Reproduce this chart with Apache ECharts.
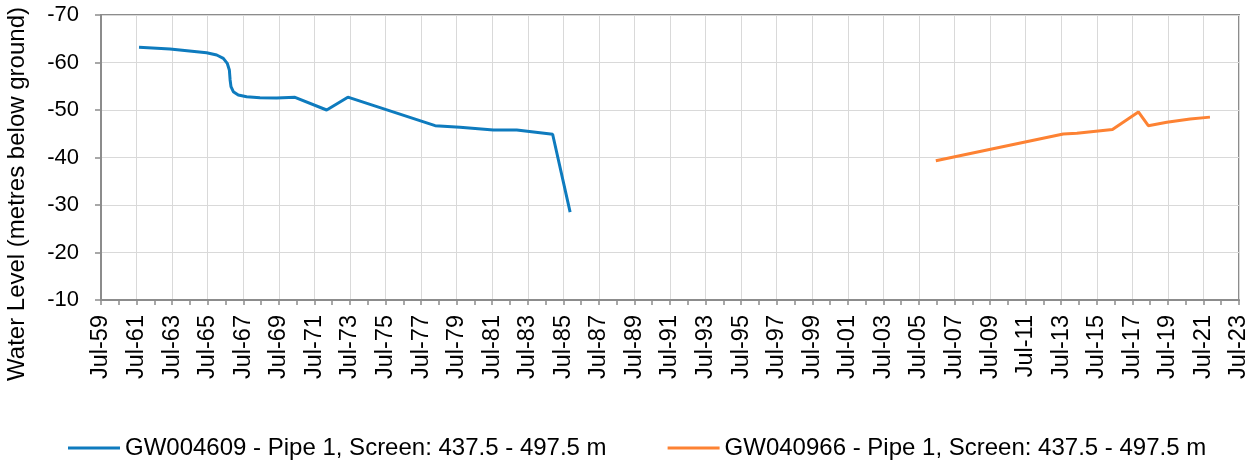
<!DOCTYPE html>
<html>
<head>
<meta charset="utf-8">
<script src="https://cdn.jsdelivr.net/npm/echarts@6/dist/echarts.min.js"></script>
<style>
  html, body { margin: 0; padding: 0; background: #fff; }
  #chart { width: 1256px; height: 466px; }
</style>
</head>
<body>
<div id="chart"></div>
<script>
// bore names
var seriesNames = [
  'GW004609 - Pipe 1, Screen: 437.5 - 497.5 m',
  'GW040966 - Pipe 1, Screen: 437.5 - 497.5 m'
];
var yTitle = 'Water Level (metres below ground)';

// GW004609 readings (date, water level)
var dates1 = ['1961-08-21', '1963-05-18', '1965-06-09', '1966-01-04', '1966-05-18',
  '1966-08-07', '1966-09-20', '1966-10-05', '1966-10-23', '1966-12-10', '1967-03-20',
  '1967-09-10', '1968-06-10', '1969-05-18', '1970-05-29', '1972-03-10', '1973-05-19',
  '1978-04-16', '1979-09-09', '1981-07-25', '1982-11-19', '1984-11-25', '1985-11-19'];
var levels1 = [-63.2, -62.84, -62.06, -61.58, -60.88,
  -59.83, -58.42, -56.32, -54.91, -53.85, -53.16,
  -52.8, -52.59, -52.53, -52.67, -50.0, -52.7,
  -46.7, -46.36, -45.8, -45.8, -44.9, -28.5];

// GW040966 readings
var dates2 = ['2006-06-13', '2013-08-13', '2014-05-19', '2016-05-19', '2017-11-04',
  '2018-05-25', '2019-06-10', '2020-10-01', '2021-11-13'];
var levels2 = [-39.3, -44.95, -45.1, -45.9, -49.6, -46.7, -47.4, -48.1, -48.5];

// y axis ticks
var yTicks = [-70, -60, -50, -40, -30, -20, -10];

// x axis: years counted from Jul-1959
function toX(d) {
  var p = d.split('-');
  return ((+p[0] - 1959) * 12 + (+p[1] - 7) + (+p[2] - 1) / 30.4) / 12;
}
function pairs(ds, vs) {
  return ds.map(function (d, i) { return [toX(d), vs[i]]; });
}

var chart = echarts.init(document.getElementById('chart'));
var font = 'Liberation Sans, Arial, sans-serif';
var axisGray = '#8c8c8c';

var option = {
  animation: false,
  textStyle: { fontFamily: font },
  grid: {
    left: 101, right: 17, top: 15, bottom: 166,
    show: true, borderColor: axisGray, borderWidth: 2
  },
  graphic: [{
    type: 'text',
    x: 17,
    y: 194,
    rotation: Math.PI / 2,
    style: {
      text: yTitle,
      fontSize: 24,
      fontFamily: font,
      fill: '#000',
      align: 'center',
      verticalAlign: 'middle'
    }
  }],
  legend: {
    top: 436,
    left: 68,
    padding: 0,
    itemWidth: 52,
    itemHeight: 3,
    itemGap: 61,
    icon: 'rect',
    textStyle: { fontSize: 24, color: '#000', fontFamily: font },
    data: seriesNames
  },
  xAxis: {
    type: 'value',
    min: 0,
    max: 64,
    interval: 2,
    axisLine: { lineStyle: { color: axisGray, width: 2 } },
    axisTick: { length: 5, lineStyle: { color: axisGray, width: 1.5 } },
    minorTick: { show: true, splitNumber: 2, length: 5, lineStyle: { color: axisGray, width: 1.5 } },
    splitLine: { lineStyle: { color: '#d9d9d9', width: 1 } },
    axisLabel: {
      rotate: 90,
      fontSize: 23.5,
      color: '#000',
      margin: 15,
      showMinLabel: true,
      showMaxLabel: true,
      formatter: function (v) {
        var yy = (59 + v) % 100;
        return 'Jul-' + (yy < 10 ? '0' : '') + yy;
      }
    }
  },
  yAxis: {
    type: 'value',
    inverse: true,
    min: yTicks[0],
    max: yTicks[yTicks.length - 1],
    interval: 10,
    axisLine: { show: true, lineStyle: { color: axisGray, width: 2 } },
    axisTick: { show: true, length: 6, lineStyle: { color: axisGray, width: 1.5 } },
    splitLine: { lineStyle: { color: '#d9d9d9', width: 1 } },
    axisLabel: { fontSize: 22, color: '#000', margin: 22 }
  },
  series: [
    {
      name: seriesNames[0],
      type: 'line',
      data: pairs(dates1, levels1),
      showSymbol: false,
      lineStyle: { color: '#0e7bbe', width: 3 },
      itemStyle: { color: '#0e7bbe' }
    },
    {
      name: seriesNames[1],
      type: 'line',
      data: pairs(dates2, levels2),
      showSymbol: false,
      lineStyle: { color: '#fd8233', width: 3 },
      itemStyle: { color: '#fd8233' }
    }
  ]
};

chart.setOption(option);
</script>
</body>
</html>
